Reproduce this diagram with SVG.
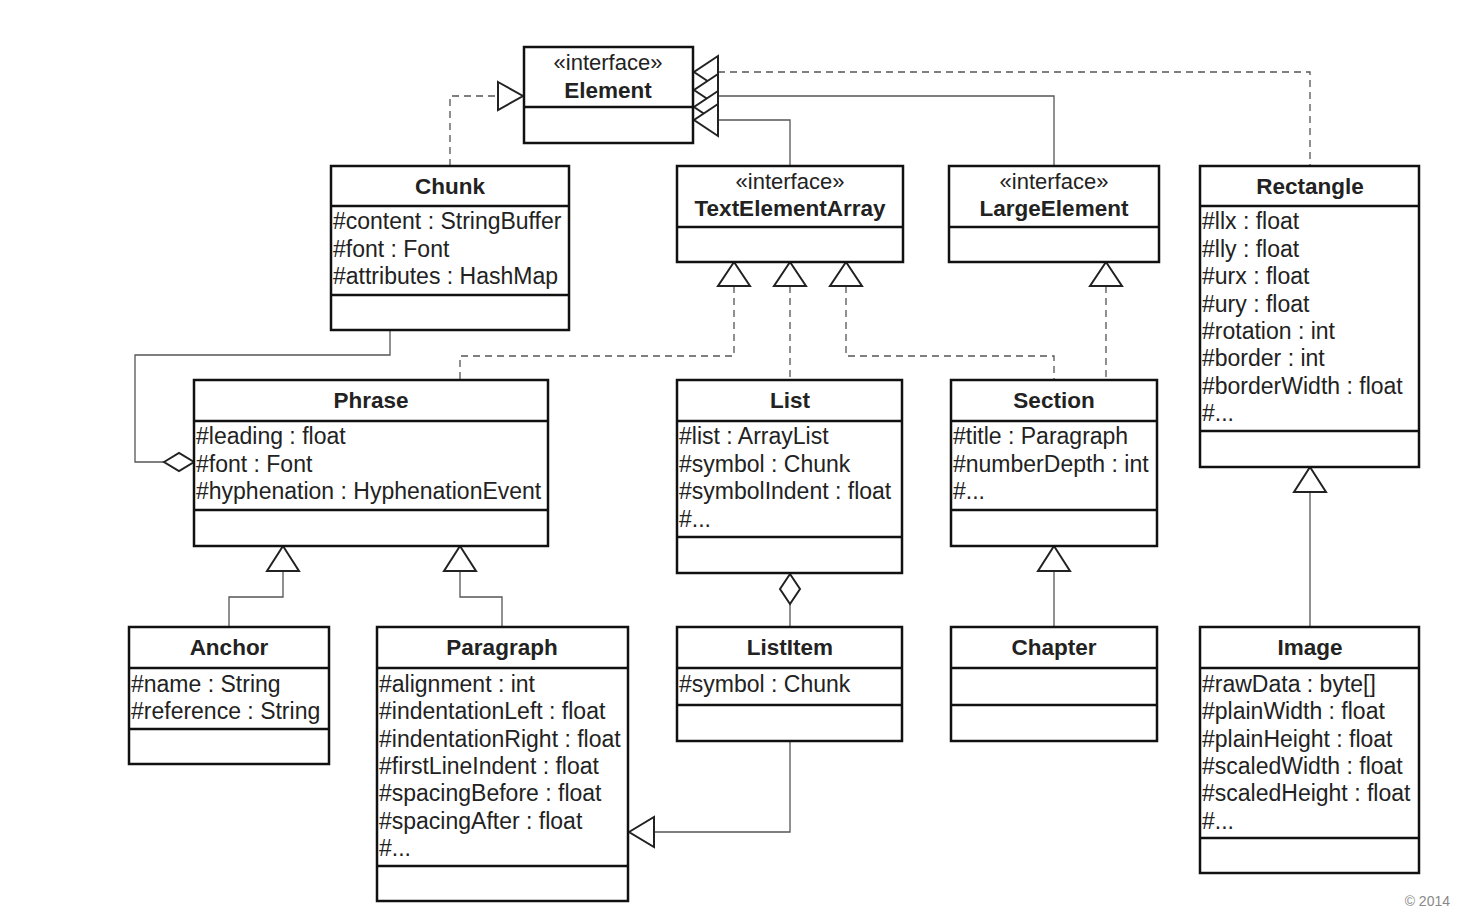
<svg xmlns="http://www.w3.org/2000/svg" width="1458" height="912" viewBox="0 0 1458 912">
<style>
.box{fill:#fff;stroke:#111;stroke-width:2.5}
.div{stroke:#111;stroke-width:2.5}
.t{font-family:"Liberation Sans",Arial,sans-serif;font-size:23px;fill:#222}
.n{font-family:"Liberation Sans",Arial,sans-serif;font-size:22.5px;font-weight:bold;fill:#222;text-anchor:middle}
.s{font-family:"Liberation Sans",Arial,sans-serif;font-size:22px;fill:#222;text-anchor:middle}
.c{fill:none;stroke:#555;stroke-width:1.3}
.d{fill:none;stroke:#555;stroke-width:1.3;stroke-dasharray:7,5}
.h{fill:#fff;stroke:#222;stroke-width:2}
</style>
<rect width="1458" height="912" fill="#fff"/>
<g id="connectors">
  <!-- Chunk realizes Element -->
  <polyline class="d" points="450,166 450,96 498,96"/>
  <polygon class="h" points="498,82 523,96 498,110"/>
  <!-- Rectangle realizes Element -->
  <polyline class="d" points="718,72 1310,72 1310,166"/>
  <!-- LargeElement extends Element -->
  <polyline class="c" points="718,96 1054,96 1054,166"/>
  <!-- TextElementArray extends Element -->
  <polyline class="c" points="718,120 790,120 790,166"/>
  <polygon class="h" points="718,56 694,72 718,88"/>
  <polygon class="h" points="718,74 694,90 718,106"/>
  <polygon class="h" points="718,91 694,107 718,123"/>
  <polygon class="h" points="718,104 694,120 718,136"/>
  <!-- TextElementArray realizations -->
  <polyline class="d" points="734,286 734,356 460,356 460,380"/>
  <polyline class="d" points="790,286 790,380"/>
  <polyline class="d" points="846,286 846,356 1054,356 1054,380"/>
  <polygon class="h" points="734,262 718,286 750,286"/>
  <polygon class="h" points="790,262 774,286 806,286"/>
  <polygon class="h" points="846,262 830,286 862,286"/>
  <!-- LargeElement realization by Section -->
  <polyline class="d" points="1106,286 1106,380"/>
  <polygon class="h" points="1106,262 1090,286 1122,286"/>
  <!-- Chunk aggregated in Phrase -->
  <polyline class="c" points="390,330 390,355 135,355 135,462 164,462"/>
  <polygon class="h" points="164,462 179,453 194,462 179,471"/>
  <!-- Anchor, Paragraph extend Phrase -->
  <polyline class="c" points="283,571 283,597 229,597 229,627"/>
  <polygon class="h" points="283,546 267,571 299,571"/>
  <polyline class="c" points="460,571 460,597 502,597 502,627"/>
  <polygon class="h" points="460,546 444,571 476,571"/>
  <!-- ListItem aggregated in List -->
  <polyline class="c" points="790,603 790,627"/>
  <polygon class="h" points="790,574 800,589 790,604 780,589"/>
  <!-- ListItem extends Paragraph -->
  <polyline class="c" points="790,741 790,832 654,832"/>
  <polygon class="h" points="629,832 654,817 654,847"/>
  <!-- Chapter extends Section -->
  <polyline class="c" points="1054,571 1054,627"/>
  <polygon class="h" points="1054,546 1038,571 1070,571"/>
  <!-- Image extends Rectangle -->
  <polyline class="c" points="1310,492 1310,627"/>
  <polygon class="h" points="1310,467 1294,492 1326,492"/>
</g>
<g id="Element">
  <rect class="box" x="524" y="47" width="169" height="96"/>
  <line class="div" x1="524" y1="107" x2="693" y2="107"/>
  <text class="s" x="608" y="70">«interface»</text>
  <text class="n" x="608" y="98">Element</text>
</g>
<g id="Chunk">
  <rect class="box" x="331" y="166" width="238" height="164"/>
  <line class="div" x1="331" y1="206" x2="569" y2="206"/>
  <line class="div" x1="331" y1="295" x2="569" y2="295"/>
  <text class="n" x="450" y="194">Chunk</text>
  <text class="t" x="333" y="229">#content : StringBuffer</text>
  <text class="t" x="333" y="257">#font : Font</text>
  <text class="t" x="333" y="284">#attributes : HashMap</text>
</g>
<g id="TextElementArray">
  <rect class="box" x="677" y="166" width="226" height="96"/>
  <line class="div" x1="677" y1="227" x2="903" y2="227"/>
  <text class="s" x="790" y="189">«interface»</text>
  <text class="n" x="790" y="216">TextElementArray</text>
</g>
<g id="LargeElement">
  <rect class="box" x="949" y="166" width="210" height="96"/>
  <line class="div" x1="949" y1="227" x2="1159" y2="227"/>
  <text class="s" x="1054" y="189">«interface»</text>
  <text class="n" x="1054" y="216">LargeElement</text>
</g>
<g id="Rectangle">
  <rect class="box" x="1200" y="166" width="219" height="301"/>
  <line class="div" x1="1200" y1="206" x2="1419" y2="206"/>
  <line class="div" x1="1200" y1="431" x2="1419" y2="431"/>
  <text class="n" x="1310" y="194">Rectangle</text>
  <text class="t" x="1202" y="229">#llx : float</text>
  <text class="t" x="1202" y="257">#lly : float</text>
  <text class="t" x="1202" y="284">#urx : float</text>
  <text class="t" x="1202" y="312">#ury : float</text>
  <text class="t" x="1202" y="339">#rotation : int</text>
  <text class="t" x="1202" y="366">#border : int</text>
  <text class="t" x="1202" y="394">#borderWidth : float</text>
  <text class="t" x="1202" y="421">#...</text>
</g>
<g id="Phrase">
  <rect class="box" x="194" y="380" width="354" height="166"/>
  <line class="div" x1="194" y1="421" x2="548" y2="421"/>
  <line class="div" x1="194" y1="510" x2="548" y2="510"/>
  <text class="n" x="371" y="408">Phrase</text>
  <text class="t" x="196" y="444">#leading : float</text>
  <text class="t" x="196" y="472">#font : Font</text>
  <text class="t" x="196" y="499">#hyphenation : HyphenationEvent</text>
</g>
<g id="List">
  <rect class="box" x="677" y="380" width="225" height="193"/>
  <line class="div" x1="677" y1="421" x2="902" y2="421"/>
  <line class="div" x1="677" y1="537" x2="902" y2="537"/>
  <text class="n" x="790" y="408">List</text>
  <text class="t" x="679" y="444">#list : ArrayList</text>
  <text class="t" x="679" y="472">#symbol : Chunk</text>
  <text class="t" x="679" y="499">#symbolIndent : float</text>
  <text class="t" x="679" y="527">#...</text>
</g>
<g id="Section">
  <rect class="box" x="951" y="380" width="206" height="166"/>
  <line class="div" x1="951" y1="421" x2="1157" y2="421"/>
  <line class="div" x1="951" y1="510" x2="1157" y2="510"/>
  <text class="n" x="1054" y="408">Section</text>
  <text class="t" x="953" y="444">#title : Paragraph</text>
  <text class="t" x="953" y="472">#numberDepth : int</text>
  <text class="t" x="953" y="499">#...</text>
</g>
<g id="Anchor">
  <rect class="box" x="129" y="627" width="200" height="137"/>
  <line class="div" x1="129" y1="668" x2="329" y2="668"/>
  <line class="div" x1="129" y1="729" x2="329" y2="729"/>
  <text class="n" x="229" y="655">Anchor</text>
  <text class="t" x="131" y="692">#name : String</text>
  <text class="t" x="131" y="719">#reference : String</text>
</g>
<g id="Paragraph">
  <rect class="box" x="377" y="627" width="251" height="274"/>
  <line class="div" x1="377" y1="668" x2="628" y2="668"/>
  <line class="div" x1="377" y1="866" x2="628" y2="866"/>
  <text class="n" x="502" y="655">Paragraph</text>
  <text class="t" x="379" y="692">#alignment : int</text>
  <text class="t" x="379" y="719">#indentationLeft : float</text>
  <text class="t" x="379" y="747">#indentationRight : float</text>
  <text class="t" x="379" y="774">#firstLineIndent : float</text>
  <text class="t" x="379" y="801">#spacingBefore : float</text>
  <text class="t" x="379" y="829">#spacingAfter : float</text>
  <text class="t" x="379" y="856">#...</text>
</g>
<g id="ListItem">
  <rect class="box" x="677" y="627" width="225" height="114"/>
  <line class="div" x1="677" y1="668" x2="902" y2="668"/>
  <line class="div" x1="677" y1="705" x2="902" y2="705"/>
  <text class="n" x="790" y="655">ListItem</text>
  <text class="t" x="679" y="692">#symbol : Chunk</text>
</g>
<g id="Chapter">
  <rect class="box" x="951" y="627" width="206" height="114"/>
  <line class="div" x1="951" y1="668" x2="1157" y2="668"/>
  <line class="div" x1="951" y1="705" x2="1157" y2="705"/>
  <text class="n" x="1054" y="655">Chapter</text>
</g>
<g id="Image">
  <rect class="box" x="1200" y="627" width="219" height="246"/>
  <line class="div" x1="1200" y1="668" x2="1419" y2="668"/>
  <line class="div" x1="1200" y1="838" x2="1419" y2="838"/>
  <text class="n" x="1310" y="655">Image</text>
  <text class="t" x="1202" y="692">#rawData : byte[]</text>
  <text class="t" x="1202" y="719">#plainWidth : float</text>
  <text class="t" x="1202" y="747">#plainHeight : float</text>
  <text class="t" x="1202" y="774">#scaledWidth : float</text>
  <text class="t" x="1202" y="801">#scaledHeight : float</text>
  <text class="t" x="1202" y="829">#...</text>
</g>
<text x="1450" y="906" style="font-family:'Liberation Sans',Arial,sans-serif;font-size:14px;fill:#888;text-anchor:end">© 2014</text>
</svg>
